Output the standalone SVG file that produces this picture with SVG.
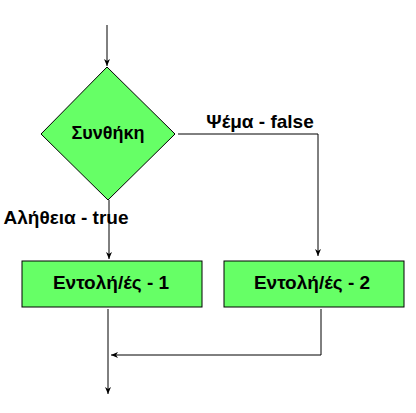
<svg xmlns="http://www.w3.org/2000/svg" width="416" height="413" viewBox="0 0 416 413">
<style>
.shape{fill:#66FF66;stroke:#000;stroke-width:1}
.lbl{font-family:"Liberation Sans",Arial,sans-serif;font-weight:bold;font-size:19px;fill:#000}
.con{fill:none;stroke:#000;stroke-width:1}
</style>
<defs>
<marker id="arr" markerWidth="8" markerHeight="8" refX="7" refY="4" orient="auto" markerUnits="userSpaceOnUse">
<path d="M0,1 L7,4 L0,7 L2,4 Z" fill="#000"/>
</marker>
</defs>
<rect width="416" height="413" fill="#fff"/>
<g id="connectors">
<line class="con" x1="107" y1="25" x2="107" y2="66" marker-end="url(#arr)"/>
<polyline class="con" points="178,134 318,134 318,256" marker-end="url(#arr)"/>
<line class="con" x1="109" y1="200" x2="109" y2="259" marker-end="url(#arr)"/>
<line class="con" x1="108" y1="309" x2="108" y2="394" marker-end="url(#arr)"/>
<polyline class="con" points="321,309 321,355 111,355" marker-end="url(#arr)"/>
</g>
<g id="condition">
<polygon class="shape" points="107,67 175,134 108,200 41,134"/>
<text class="lbl" x="108" y="139" text-anchor="middle" font-size="18" style="font-size:18px">Συνθήκη</text>
</g>
<g id="label-false"><text class="lbl" x="260" y="128" text-anchor="middle">Ψέμα - false</text></g>
<g id="label-true"><text class="lbl" x="66" y="224" text-anchor="middle">Αλήθεια - true</text></g>
<g id="cmd1">
<rect class="shape" x="22" y="261" width="180" height="46"/>
<text class="lbl" x="111" y="289" text-anchor="middle">Εντολή/ές - 1</text>
</g>
<g id="cmd2">
<rect class="shape" x="224" y="261" width="180" height="46"/>
<text class="lbl" x="312" y="289" text-anchor="middle">Εντολή/ές - 2</text>
</g>
</svg>
